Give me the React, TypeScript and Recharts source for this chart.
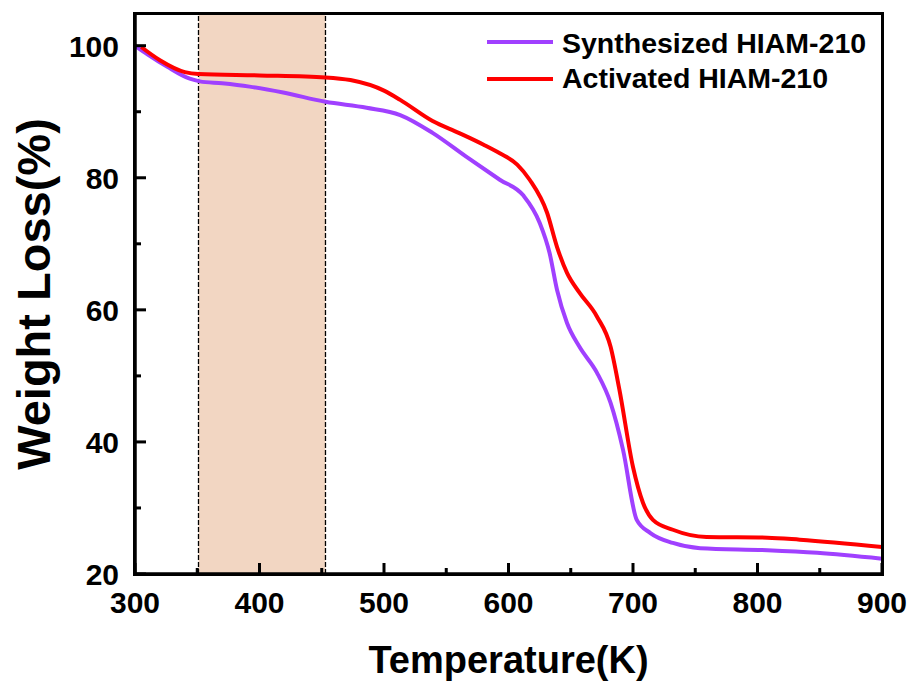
import { LineChart, Line, XAxis, YAxis, ReferenceArea, ReferenceLine, Legend } from 'recharts';

const synthTemp = [300, 310, 326, 344, 352, 370, 392, 419, 453, 486, 513, 539, 566, 593, 612, 625, 633, 639, 647, 657, 671, 682, 692, 703, 714, 732, 754, 808, 848, 900];
const synthWeight = [100, 98.7, 96.8, 95.0, 94.6, 94.3, 93.8, 92.9, 91.5, 90.6, 89.5, 86.8, 83.2, 79.7, 77.3, 73.2, 68.6, 63.0, 58.0, 54.4, 50.5, 45.9, 38.8, 28.2, 26.2, 24.7, 23.9, 23.6, 23.2, 22.3];

const activTemp = [305, 320, 340, 351, 400, 453, 473, 500, 513, 539, 560, 580, 593, 607, 617, 631, 639, 647, 657, 671, 682, 689, 700, 708, 716, 732, 759, 808, 834, 900];
const activWeight = [99.8, 97.8, 96.0, 95.7, 95.5, 95.2, 94.8, 93.2, 91.8, 88.6, 86.8, 85.0, 83.7, 82.0, 79.7, 74.7, 69.5, 65.6, 62.6, 59.0, 54.4, 48.0, 36.2, 30.8, 28.2, 26.7, 25.6, 25.5, 25.2, 24.1];

const xTicks = [300, 350, 400, 450, 500, 550, 600, 650, 700, 750, 800, 850, 900];
const yTicks = [20, 30, 40, 50, 60, 70, 80, 90, 100];
const xDomain = [300, 900];
const yDomain = [20, 104.8];
const shadeRange = [351, 453];

const synthData = synthTemp.map((t, i) => ({ temp: t, weight: synthWeight[i] }));
const activData = activTemp.map((t, i) => ({ temp: t, weight: activWeight[i] }));

const FONT = '"Liberation Sans", Arial, sans-serif';
const PURPLE = '#a040ff';
const RED = '#ff0000';

const XTick = (props: any) => {
  const { x, y, payload } = props;
  const major = payload.value % 100 === 0;
  return (
    <g>
      <line x1={x} y1={y} x2={x} y2={y - (major ? 11 : 6)} stroke="#000" strokeWidth={3} />
      {major && (
        <text x={x} y={y + 39} textAnchor="middle" fontSize={30} fontWeight="bold" fontFamily={FONT} fill="#000">
          {payload.value}
        </text>
      )}
    </g>
  );
};

const YTick = (props: any) => {
  const { x, y, payload } = props;
  const major = payload.value % 20 === 0;
  return (
    <g>
      <line x1={x} y1={y} x2={x + (major ? 11 : 6)} y2={y} stroke="#000" strokeWidth={3} />
      {major && (
        <text x={x - 16} y={y + 11} textAnchor="end" fontSize={30} fontWeight="bold" fontFamily={FONT} fill="#000">
          {payload.value}
        </text>
      )}
    </g>
  );
};

const LegendBox = () => (
  <svg width={400} height={80} style={{ display: 'block' }}>
    <line x1={0} y1={22} x2={66} y2={22} stroke={PURPLE} strokeWidth={4} />
    <text x={75} y={33} fontSize={28.5} fontWeight="bold" fontFamily={FONT} fill="#000">Synthesized HIAM-210</text>
    <line x1={0} y1={59} x2={66} y2={59} stroke={RED} strokeWidth={4} />
    <text x={75} y={68} fontSize={28.5} fontWeight="bold" fontFamily={FONT} fill="#000">Activated HIAM-210</text>
  </svg>
);

export default function App() {
  return (
    <div style={{ position: 'absolute', left: 0, top: 0, width: 914, height: 687, background: '#fff' }}>
      <LineChart width={914} height={687} margin={{ top: 14, right: 32, left: 0, bottom: 0 }}>
        <ReferenceArea x1={shadeRange[0]} x2={shadeRange[1]} y1={yDomain[0]} y2={yDomain[1]} fill="#f2d6c2" fillOpacity={1} stroke="none" />
        <ReferenceLine x={shadeRange[0]} stroke="#000" strokeWidth={1.3} strokeDasharray="5 2" />
        <ReferenceLine x={shadeRange[1]} stroke="#000" strokeWidth={1.3} strokeDasharray="5 2" />
        <XAxis
          dataKey="temp"
          type="number"
          domain={xDomain}
          ticks={xTicks}
          allowDataOverflow
          height={113}
          tickSize={0}
          tickMargin={0}
          tickLine={false}
          axisLine={{ stroke: '#000', strokeWidth: 3.5 }}
          tick={<XTick />}
          interval={0}
          label={{
            content: (p: any) => {
              const vb = p.viewBox;
              return (
                <text x={vb.x + vb.width / 2} y={vb.y + 99} textAnchor="middle" fontSize={38} fontWeight="bold" fontFamily={FONT} fill="#000">
                  Temperature(K)
                </text>
              );
            },
          }}
        />
        <YAxis
          type="number"
          domain={yDomain}
          ticks={yTicks}
          allowDataOverflow
          width={135}
          tickSize={0}
          tickMargin={0}
          tickLine={false}
          axisLine={{ stroke: '#000', strokeWidth: 3.5 }}
          tick={<YTick />}
          interval={0}
          label={{
            content: (p: any) => {
              const vb = p.viewBox;
              const cy = vb.y + vb.height / 2;
              return (
                <text x={50} y={cy} transform={`rotate(-90, 50, ${cy})`} textAnchor="middle" fontSize={47} fontWeight="bold" fontFamily={FONT} fill="#000">
                  Weight Loss(%)
                </text>
              );
            },
          }}
        />
        <Line data={synthData} dataKey="weight" type="monotone" stroke={PURPLE} strokeWidth={4} dot={false} isAnimationActive={false} name="Synthesized HIAM-210" />
        <Line data={activData} dataKey="weight" type="monotone" stroke={RED} strokeWidth={4} dot={false} isAnimationActive={false} name="Activated HIAM-210" />
        <Legend
          layout="horizontal"
          verticalAlign="middle"
          align="center"
          wrapperStyle={{ left: 487, top: 20, width: 400 }}
          content={() => <LegendBox />}
        />
      </LineChart>
      {/* plot frame */}
      <div
        style={{
          position: 'absolute',
          left: 133,
          top: 12,
          width: 751,
          height: 564,
          boxSizing: 'border-box',
          border: '3px solid #000',
          pointerEvents: 'none',
        }}
      />
    </div>
  );
}
